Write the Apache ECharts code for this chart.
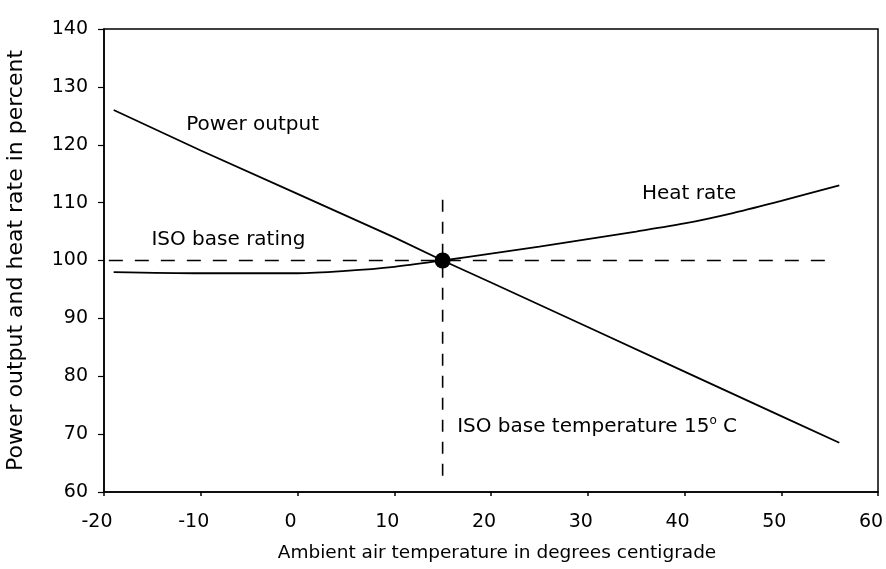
<!DOCTYPE html>
<html><head><meta charset="utf-8">
<script src="https://cdn.jsdelivr.net/npm/echarts@6/dist/echarts.min.js"></script>
<style>html,body{margin:0;padding:0;background:#fff}#c{width:886px;height:569px}</style>
</head><body><div id="c"></div>
<script>
// Data
const powerTemp  = [-19, -10, 0, 10, 15, 20, 30, 40, 50, 56];
const powerValue = [126, 119, 111.5, 104, 100, 96.2, 88.5, 80.8, 73.1, 68.5];
const heatTemp   = [-19, -10, 0, 5, 10, 15, 20, 25, 30, 35, 40, 45, 50, 56];
const heatValue  = [98, 97.8, 97.8, 98.2, 98.9, 100, 101.2, 102.4, 103.7, 105, 106.4, 108.2, 110.3, 113];
const isoRatingX = [-19.5, 55.5];
const isoRatingY = [100, 100];
const isoTempX   = [15, 15];
const isoTempY   = [110.5, 61.7];
const isoPoint   = [15, 100];
const xTicks = [-20, -10, 0, 10, 20, 30, 40, 50, 60];
const yTicks = [60, 70, 80, 90, 100, 110, 120, 130, 140];
const annotations = [
  {text: 'Power output', at: [-11.5, 123.4]},
  {text: 'Heat rate', at: [35.6, 111.6]},
  {text: 'ISO base rating', at: [-15.1, 103.6]},
  {text: 'ISO base temperature 15{sup|o} C', at: [16.5, 71.3]}
];

const FONT = '"DejaVu Sans", sans-serif';
const zip = (a, b) => a.map((v, i) => [v, b[i]]);

const chart = echarts.init(document.getElementById('c'), null, {renderer: 'canvas'});
chart.setOption({
  backgroundColor: '#fff',
  animation: false,
  grid: {left: 104, right: 8, top: 29, bottom: 77, containLabel: false, outerBoundsMode: 'none',
    show: true, borderColor: '#000', borderWidth: 1.5, backgroundColor: 'transparent'},
  xAxis: {
    type: 'value', min: xTicks[0], max: xTicks[xTicks.length - 1], interval: 10,
    name: 'Ambient air temperature in degrees centigrade', nameLocation: 'middle', nameGap: 52,
    nameTextStyle: {fontFamily: FONT, fontSize: 18.5, color: '#000', padding: [0, 0, 0, 12]},
    axisLine: {onZero: false, lineStyle: {color: '#000', width: 1.5}},
    axisTick: {show: true, length: 4, lineStyle: {color: '#000', width: 1.5}},
    axisLabel: {fontFamily: FONT, fontSize: 19, color: '#000', margin: 21, padding: [0, 14, 0, 0]},
    splitLine: {show: false}
  },
  yAxis: {
    type: 'value', min: yTicks[0], max: yTicks[yTicks.length - 1], interval: 10,
    name: 'Power output and heat rate in percent', nameLocation: 'middle', nameGap: 77,
    nameTextStyle: {fontFamily: FONT, fontSize: 22, color: '#000'},
    axisLine: {onZero: false, lineStyle: {color: '#000', width: 1.5}},
    axisTick: {show: true, length: 6, lineStyle: {color: '#000', width: 1.2}},
    axisLabel: {fontFamily: FONT, fontSize: 19, color: '#000', margin: 16},
    splitLine: {show: false}
  },
  series: [
    {type: 'line', data: zip(powerTemp, powerValue), showSymbol: false, lineStyle: {color: '#000', width: 1.8}},
    {type: 'line', data: zip(heatTemp, heatValue), smooth: 0.3, showSymbol: false, lineStyle: {color: '#000', width: 1.8}},
    {type: 'line', data: zip(isoRatingX, isoRatingY), showSymbol: false, lineStyle: {color: '#000', width: 1.6, type: [14, 12]}},
    {type: 'line', data: zip(isoTempX, isoTempY), showSymbol: false, lineStyle: {color: '#000', width: 1.6, type: [12, 10]}},
    {type: 'scatter', data: [isoPoint], symbolSize: 16, itemStyle: {color: '#000', opacity: 1}, z: 5},
    {type: 'scatter', symbolSize: 0, silent: true, itemStyle: {opacity: 1},
      data: annotations.map(a => ({value: a.at, name: a.text})),
      label: {show: true, position: 'right', distance: 0, formatter: p => p.name,
        fontFamily: FONT, fontSize: 20, color: '#000',
        rich: {sup: {fontFamily: FONT, fontSize: 12, color: '#000', padding: [0, 0, 11, 0]}}}
    }
  ]
});
</script></body></html>
